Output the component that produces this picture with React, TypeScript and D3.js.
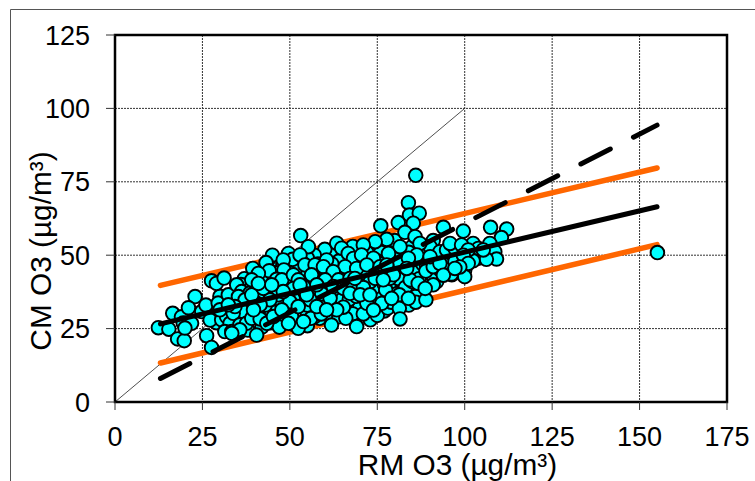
import React from "react";
import * as d3 from "d3";

const xTicks = [0, 25, 50, 75, 100, 125, 150, 175];
const yTicks = [0, 25, 50, 75, 100, 125];
const identityLine: [number, number][] = [[0, 0], [100, 100]];
const regression: [number, number][] = [[13, 26.6], [155, 66.5]];
const upperBound: [number, number][] = [[13, 39.7], [155, 79.7]];
const lowerBound: [number, number][] = [[13, 13.3], [155, 53.6]];
const orthogonal: [number, number][] = [[13, 8], [155, 94.3]];

const obs: [number, number][] = [
  [45.5,32],[48.5,33.5],[55,30],[58.5,28.5],[62,29],[55.5,39],[58,44],[61,38],[64,36],[66,34],[70,33],[68,30],[73,28],[75,36],[77,31],[80,40],[82,44],[85,38],[87,46],[89,42],[92,41],[94,46],[95,48],[91,55],[88,50],[85,53],[80,55],[76,51],[72,51],[68,53],[65,50],[62,51],[60,52],[57,50],[55,49],[46,47],[45,50],[47,46],[43,42],[42,35],[37,42],[36,32],[33,35],[30,36],[28,30],[31,26],[34,28],[38,29],[44,37],[49,41],[53,36],[56,41],[59,33],[63,46],[66,44],[69,47],[73,44],[75,48],[79,48],[82,50],[84,47],[86,44],[88,47],[90,44],[92,49],[70,41],[72,38],[74,39],[78,37],[80,37],[60,43],[58,37],[54,44],[50,46],[47,43],[44,43],[40,37],[36,28],[43,30],[46,33],[49,30],[51,35],[55,33],[57,29],[64,43],[67,40],[71,44],[77,44],[83,42],[86,36],[100,45],[103,50],[98,49],
  [34,26],[36.5,25.5],[38,24.5],[42,25.5],[44.5,27],[47,28],[47,25.5],[51,26.5],[55,26],[56,28.5],[59,30],[64,29],[66,28.5],[71,30],[75,29.5],[78,32],[79,34],[84,33],[86,34],[32,31],[35,34],[37,37],[39,34],[41,31],[43,33],[45,35],[47,35],[49,37],[51,40],[53,42],[55,44],[57,42],[59,40],[61,41],[63,38],[65,35],[67,35],[69,36],[71,36],[73,41],[75,43],[77,40],[79,41],[81,42],[83,39],[85,41],[87,42],[89,47],[91,43],[93,45],[95,45],[97,44],[99,47],[101,49],[104,49],[88,52],[86,49],[84,51],[82,47],[80,45],[78,45],[76,47],[74,46],[72,48],[70,48],[68,46],[66,47],[64,48],[62,47],[60,45],[58,47],[56,46],[54,47],[52,46],[50,44],[48,47],[46,44],[44,40],[42,41],[40,42],[38,40],[36,40],[34,37],[32,34],[30,33],[29,27],[37,31],[39,39],
  [12.4,25.3],[15.4,24.8],[16.5,30.2],[19,29],[19.5,26.9],[17.9,21.5],[19.8,20.9],[22.9,35.9],[21,32.1],[21.9,26.8],[20,25.2],[24.8,30.8],[26,33],[27.2,27.9],[26.2,22.6],[27.6,18.6],
  [27.6,41.3],[29,40.4],[31.2,42.2],[29.5,33.7],[30.5,28],[31.9,29.1],[32.9,26.8],[31.4,24],[33.4,24],[32.4,36.5],[34.8,39.9],[36.2,37.6],[38.6,37.1],[35.3,35.9],[37.2,34.8],[40.5,39.3],[39.6,45],[41.5,37],[38.6,31.4],[36.7,30.8],[33.8,30.2],[35.7,26.3],[40.5,33.6],[41,29.1],[34.3,32.5],[30,31.4],[37.6,26.8],[39.1,28.5],[32.4,33.1],[35.7,24.6],[33.4,23.4],[41.5,28.3],[40.5,22.8],
  [53.1,56.7],[55.3,52.9],[49.6,50.6],[50.8,48.6],[48.1,48.4],[43.2,47.5],[44.1,44.7],[39.4,45.5],[41,43.8],[48.3,45],[46.2,41.8],[47.7,41.6],[52.9,50.1],[54.3,46.7],[51,43.3],[52.4,41.6],[57.2,46.7],[60.5,48.4],[59.6,46.1],[63.4,54.1],[64.8,52.4],[66.7,50.6],[68.2,48.9],[65.8,46.1],[69.1,45.5],[62.4,44.4],[56.2,43.3],[60.1,41.6],[63.9,41.6],[67.2,42.1],[59.1,36.8],[61.5,35.3],[55.8,34.8],[57.7,32.5],[65.3,32.3],[63.4,31.4],[60.5,31.4],[61.9,26.2],[66.7,37.6],[69.1,25.7],[50,34.2],[46.7,36.5],[44.3,34.8],[41.5,33.1],[39.1,36.5],[39.6,31.4],[43.4,26.8],[45.3,29.1],[47.7,31.4],[50.5,29.1],[52.4,25.1],[49.6,26.8],[53.9,27.4],[52.4,32.5],[54.8,36.5],[51,38.7],[52.9,39.9],[57.7,39.9],[62.4,39.3],[65.3,38.7],[68.2,39.3],[48.1,37.6],[42.4,38.7],[44.8,39.9],[39.1,41.6],[41,40.4],
  [83.9,67.9],[84.2,63.7],[87,64.3],[81,61.1],[85.3,60.9],[76,60],[93.9,59.5],[82.9,57.8],[85.8,56.3],[77.7,55.4],[74.4,54.6],[71,53.5],[81.5,52.9],[78.2,50.6],[70.5,50.1],[73.9,49],[72,46.7],[94.8,51.2],[90.1,52.9],[87.2,54],[92.9,51.2],[84.4,41.6],[88.9,44.6],[91,39.9],[88.9,34.8],[81.3,36.5],[81.3,31.9],[81.5,28.3],[77.4,38.2],[76.3,33.6],[72,33.6],[71,39],[67.2,37],[73.9,31.3],[83.9,35.3],[78.6,42.1],[81.5,47.2],[75.8,46.1],[86.3,50.1],[83.9,49],[91,46.1],[96.3,43.3],[93.9,43.3],[97.7,46.7],[86.7,40.4],[88.7,38.7],[79.6,43.3],[74.4,42.1],[68.6,42.1],[76.7,41.6],[70.1,36.5],[72.9,36.5],[79.1,35.3],[83.4,45.5],[90.1,49.5],[77.7,46.7],[96.8,50],[92.9,47.2],
  [112,58.9],[107.4,59.5],[110.5,56],[99.6,58.2],[102.4,54],[103.9,52.3],[107.2,54],[106.7,51.2],[108.6,51.2],[109.1,48.7],[106.2,48.6],[102.4,48.1],[100,42.7],[96.2,43.6],[97.2,47.8],[94.8,51.8],[97.2,52.3],[95.8,54],[99.1,53.5],[101,51.8],[99.6,50],[101,47.2],[105.3,51.8],[98.6,46],[93.9,43.2],[97.2,45.5],
  [155.1,50.9],[86,77.2]
];

const margin = { left: 115, right: 727, top: 35, bottom: 402 };

export default function App() {
  const x = d3.scaleLinear().domain([0, 175]).range([margin.left, margin.right]);
  const y = d3.scaleLinear().domain([0, 125]).range([margin.bottom, margin.top]);
  const line = d3.line<[number, number]>().x((d) => x(d[0])).y((d) => y(d[1]));
  const font = "'Liberation Sans', Arial, sans-serif";
  return (
    <svg width={755} height={481} style={{ position: "absolute", left: 0, top: 0, background: "#fff" }} fontFamily={font}>
      <path d="M10.5,481V9.5H755" fill="none" stroke="#555" strokeWidth={1} />
      {xTicks.slice(1, -1).map((t) => (
        <line key={t} x1={x(t)} x2={x(t)} y1={margin.top} y2={margin.bottom} stroke="#333" strokeWidth={1} strokeDasharray="2 1" />
      ))}
      {yTicks.slice(1, -1).map((t) => (
        <line key={t} x1={margin.left} x2={margin.right} y1={y(t)} y2={y(t)} stroke="#333" strokeWidth={1} strokeDasharray="2 1" />
      ))}
      <path d={line(identityLine)!} fill="none" stroke="#222" strokeWidth={0.8} />
      <path d={line(upperBound)!} fill="none" stroke="#ff6600" strokeWidth={5.5} strokeLinecap="round" />
      <path d={line(lowerBound)!} fill="none" stroke="#ff6600" strokeWidth={5.5} strokeLinecap="round" />
      {obs.map((d, i) => (
        <circle key={i} cx={x(d[0])} cy={y(d[1])} r={6.8} fill="#00ffff" stroke="#000" strokeWidth={1.9} />
      ))}
      <path d={line(regression)!} fill="none" stroke="#000" strokeWidth={5} strokeLinecap="round" />
      <path d={line(orthogonal)!} fill="none" stroke="#000" strokeWidth={5} strokeLinecap="round" strokeDasharray="33 26" />
      <rect x={margin.left} y={margin.top} width={margin.right - margin.left} height={margin.bottom - margin.top} fill="none" stroke="#000" strokeWidth={2.5} />
      {xTicks.map((t) => (
        <g key={t}>
          <line x1={x(t)} x2={x(t)} y1={margin.bottom} y2={margin.bottom + 8} stroke="#333" strokeWidth={1} />
          <text x={x(t)} y={446} textAnchor="middle" fontSize={27}>{t}</text>
        </g>
      ))}
      {yTicks.map((t) => (
        <g key={t}>
          <line x1={margin.left - 9} x2={margin.left} y1={y(t)} y2={y(t)} stroke="#333" strokeWidth={1} />
          <text x={90} y={y(t) + 9.5} textAnchor="end" fontSize={27}>{t}</text>
        </g>
      ))}
      <text x={457.5} y={475} textAnchor="middle" fontSize={29.8}>RM O3 (µg/m³)</text>
      <text transform="translate(51,251) rotate(-90)" textAnchor="middle" fontSize={29.8}>CM O3 (µg/m³)</text>
    </svg>
  );
}
